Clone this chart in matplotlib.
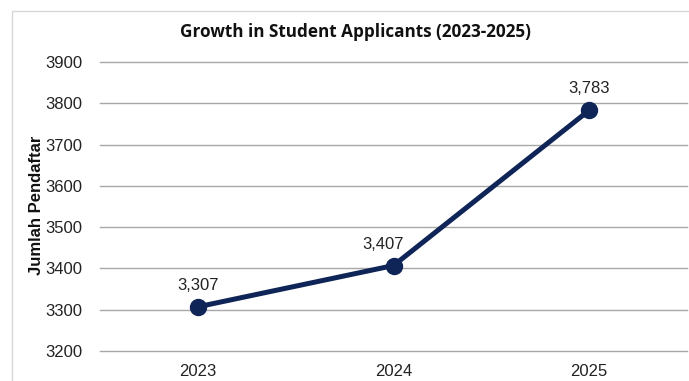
import matplotlib.pyplot as plt
from matplotlib.patches import Rectangle

# Data
years = ["2023", "2024", "2025"]
applicants = [3307, 3407, 3783]
y_ticks = [3200, 3300, 3400, 3500, 3600, 3700, 3800, 3900]
label_shift = [0, -10, 0]  # small horizontal nudge for the value labels (px)

navy = "#0f2557"

fig = plt.figure(figsize=(6.89, 3.81), dpi=100)
fig.patch.set_facecolor("white")

# Light frame around the chart area
fig.patches.append(Rectangle((12 / 689, -0.05), 1.2, 1 - 11 / 381 + 0.05,
                             transform=fig.transFigure, fill=False,
                             edgecolor="#d8d8d8", linewidth=1))

ax = fig.add_axes([100 / 689, 1 - 351 / 381, 587 / 689, 289 / 381])
x = list(range(len(years)))
ax.plot(x, applicants, color=navy, linewidth=3.6, marker="o",
        markersize=11.5, zorder=3, solid_capstyle="round", clip_on=False)

for xi, val, dx in zip(x, applicants, label_shift):
    ax.annotate(f"{val:,}", (xi, val), textcoords="offset pixels",
                xytext=(dx, 14), ha="center", va="bottom",
                fontsize=12, family="Liberation Sans", color="#222222")

ax.set_xlim(-0.5, 2.5)
ax.set_ylim(3200, 3900)
ax.set_yticks(y_ticks)
ax.set_xticks(x)
ax.set_xticklabels(years)
ax.grid(axis="y", color="#a8a8a8", linewidth=1, clip_on=False)
ax.set_axisbelow(True)
for s in ax.spines.values():
    s.set_visible(False)
ax.tick_params(length=0, labelsize=12, labelcolor="#222222", pad=13)
ax.tick_params(axis="x", pad=9)
for lab in ax.get_xticklabels() + ax.get_yticklabels():
    lab.set_family("Liberation Sans")

fig.text(37 / 689, 1 - 205 / 381, "Jumlah Pendaftar", rotation=90,
         ha="center", va="center", fontsize=12, fontweight="bold",
         family="Liberation Sans", color="#111111")
fig.text(355 / 689, 1 - 32 / 381, "Growth in Student Applicants (2023-2025)",
         ha="center", va="center", fontsize=12.3, fontweight="bold",
         family="Open Sans", color="#111111")

fig.savefig("out.png", dpi=100)
